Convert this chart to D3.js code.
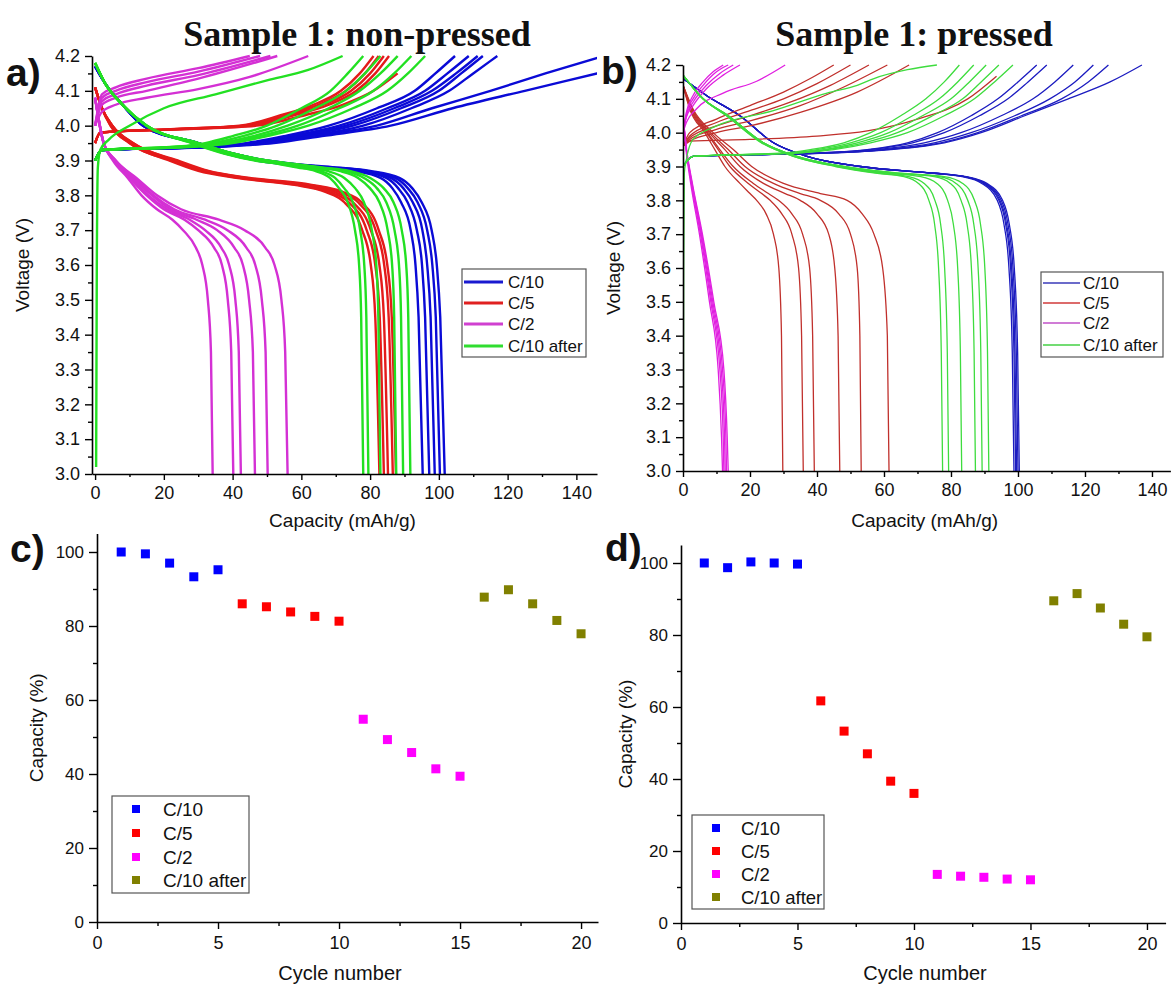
<!DOCTYPE html>
<html><head><meta charset="utf-8">
<script src="https://cdn.jsdelivr.net/npm/d3@7"></script>
<style>body{margin:0;background:#fff}svg text{font-family:"Liberation Sans",Arial,sans-serif;fill:#111}</style>
</head><body><svg id="c" width="1175" height="985"></svg>
<script>
// ---------------- DATA ----------------
const seriesNames = ["C/10","C/5","C/2","C/10 after"];
const voltTicks = [3.0,3.1,3.2,3.3,3.4,3.5,3.6,3.7,3.8,3.9,4.0,4.1,4.2];
const capTicks = [0,20,40,60,80,100,120,140];
const pctTicks = [0,20,40,60,80,100];
const cycTicks = [0,5,10,15,20];

// Panel a (non-pressed): discharge curves, capacities (mAh/g) at voltage grid
const aDisGridBlue = [4.17,4.12,4.06,4.0,3.95,3.92,3.9,3.89,3.88,3.87,3.85,3.82,3.78,3.7,3.6,3.45,3.0];
const aDisBlue = [
 [0,3,8,14,29,38,47,54.5,65,75,83,86.5,89,91.8,93.2,94.1,95.3],
 [0,3,8,14,29.5,39,48,55.5,66.5,76.5,84.7,88.2,90.9,93.6,95.1,96,97.2],
 [0,3,8,14,30,39.5,48.8,56.5,67.8,77.8,86,89.7,92.4,95.2,96.6,97.6,98.8],
 [0,3,8,14,30,40,49.5,57.3,69,79,87.3,91,93.8,96.6,98.1,99.1,100.3],
 [0,3,8,14,30,40,50,58,70,80,88.5,92.3,95,97.9,99.4,100.4,101.7]
];
const aDisGridGreen = [4.18,4.12,4.06,4.0,3.95,3.92,3.9,3.89,3.88,3.87,3.85,3.82,3.78,3.7,3.6,3.45,3.0];
const aDisGreen = [
 [0,3,8,15,28,37.5,46.5,53.5,59,64,68.3,71,73.5,75.6,76.8,77.4,78],
 [0,3,8,15,28.5,38,47,54,60,65.5,69.8,72.5,75,77.1,78.3,78.9,79.5],
 [0,3,8,15,29,39,48,55,61.5,67.5,72.5,75.7,78.2,80.5,81.8,82.4,83],
 [0,3,8,15,30,40,49.5,57,64,71,76.5,80,82.7,85.1,86.4,87,87.6],
 [0,3,8,15,30,40,50,57.5,65,72.5,78.2,82,84.7,87.1,88.4,89,89.6],
 [0,3,8,15,30,40,50,58,66,74,80,84,86.8,89.2,90.5,91.1,91.7]
];
const aDisGridRed = [4.11,4.05,4.0,3.95,3.9,3.87,3.85,3.83,3.81,3.78,3.7,3.6,3.45,3.0];
const aDisRed = [
 [0,2,4.5,10,21.5,30,41,58,67,72.5,77.7,80.2,81.5,82.7],
 [0,2,4.5,10,22,31,42,59,68,73.8,79,81.5,82.8,84],
 [0,2,5,10.5,23,32,43,60.5,69.5,75,80.2,82.7,84,85.2],
 [0,2,5,11,23.5,32.5,44,62,71,76.5,81.6,84.1,85.4,86.6],
 [0,2,5,11,24,33,45,63,72,77.5,82.5,85,86.3,87.5]
];
const aDisGridMag = [4.08,3.95,3.9,3.85,3.8,3.76,3.73,3.7,3.65,3.6,3.5,3.35,3.0];
const aDisMag = [
 [0,2.5,5.2,9.5,13.5,18,22.5,25.6,29.3,31.2,32.8,33.7,34.2],
 [0,2.5,5.5,10,15,20,26,30,34.6,36.9,38.6,39.6,40.2],
 [0,2.5,5.6,10.5,15.5,21,27.5,32,36.7,39,40.8,41.8,42.4],
 [0,2.5,5.8,11,16.5,22,29.5,35.5,40.5,43,44.8,45.9,46.5],
 [0,2.5,6,11.5,17,23,32,38.5,44,46.6,48.5,49.6,50.2],
 [0,2.5,6,12,18,25,36,43.5,49.5,52.2,54.2,55.3,56]
];
// Panel a charge curves
const aChgGrid = [3.9,3.93,3.94,3.95,3.97,4.0,4.05,4.1,4.15,4.2];
const aChgBlue = [
 [0,2,33,44,55,68,82,93,99,104.7],
 [0,2,34,45,57,71,85,96,102.5,108.7],
 [0,2,34,46,59,73,87,98,105,111.3],
 [0,2,35,47,60,75,89,100,106.5,112.8],
 [0,2,35,48,62,78,92,103,110,117],
 [0,2,36,50,63,82,98,115,131,148],
 [0,2,38,52,66,86,104,125,146,167]
];
const aChgGreen = [
 [0,2,24,32,40,50,60,68.5,73.5,78],
 [0,2,25,34,43,53,64,73,78.5,83],
 [0,2,27,36,46,56,68,77,83,88],
 [0,2,28,38,48,59,71,81,87,92],
 [0,2,30,40,50,62,75,85,91,96]
];
const aChgGreenFirst = [[0.3,3.02],[0.5,3.6],[0.8,3.88],[1.5,3.93],[4,3.96],[10,4.0],[20,4.05],[35,4.09],[50,4.13],[62,4.16],[72,4.2]];
const aChgGridRed = [3.95,3.98,3.99,4.0,4.03,4.06,4.1,4.15,4.2];
const aChgRed = [
 [0,1.5,22,42,54,63.5,71.5,77,81],
 [0,1.5,23,43,55,65,73,78.5,82.5],
 [0,1.5,24,44,56.5,66.5,74.5,80,84],
 [0,1.5,25,45,58,68,76,81.5,85.5]
];
const aChgRedLong = [[0,3.95],[1.5,3.98],[26,3.99],[47,4.0],[61,4.03],[72,4.06],[81,4.1],[88,4.15]];
const aChgMag = [
 [[0,4.0],[2,4.09],[6,4.11],[15,4.135],[30,4.165],[45,4.2]],
 [[0,4.0],[2,4.08],[6,4.1],[15,4.125],[30,4.155],[48,4.2]],
 [[0,4.0],[2,4.07],[6,4.09],[15,4.115],[30,4.145],[51,4.2]],
 [[0,4.0],[2,4.06],[6,4.08],[15,4.1],[30,4.135],[53,4.2]],
 [[0,4.0],[2,4.04],[6,4.06],[15,4.08],[30,4.105],[45,4.14],[62,4.2]]
];

// Panel b (pressed)
const bDisGridBlue = [4.16,4.11,4.05,3.97,3.93,3.9,3.88,3.87,3.85,3.8,3.73,3.6,3.35,3.0];
const bDisBlue = [
 [0,7,17,27,37,52.5,74.5,83.3,89.2,93.8,95.8,97.3,98.3,98.8],
 [0,7,17,27,37,53,75,84,89.7,94.3,96.3,97.8,98.8,99.3],
 [0,7,17,27,37,53,75,84,90,94.6,96.6,98.1,99.1,99.6],
 [0,7,17,27,37,53,75,84,90.3,95,97,98.5,99.5,100],
 [0,7,17,27,37,53,75.5,84.5,90.7,95.4,97.4,98.9,99.9,100.4]
];
const bDisGridGreen = [4.17,4.1,4.05,3.97,3.93,3.9,3.88,3.87,3.85,3.8,3.73,3.6,3.35,3.0];
const bDisGreen = [
 [0,6,13,23.5,33,45.5,58,66,70.3,73.4,75.1,76.3,77.1,77.5],
 [0,6,13,23.5,33,46,59,67.5,72,75.2,76.9,78.1,78.9,79.3],
 [0,6,13.5,24,33.5,47,61,71,75.8,79,80.7,82,82.8,83.2],
 [0,6,13.5,24,34,47.5,63,75,79.8,83,84.8,86.1,86.9,87.3],
 [0,6,13.5,24,34,48,64,76.5,81.5,85,86.8,88.1,88.9,89.3],
 [0,6,13.5,24,34,48,65,78,83.5,87,88.8,90.1,90.9,91.3]
];
const bDisGridRed = [4.14,4.07,4.0,3.95,3.9,3.85,3.82,3.8,3.76,3.7,3.6,3.4,3.0];
const bDisRed = [
 [0,2,6.5,9.5,12.5,17,20,22,24.8,27,28.6,29.4,29.8],
 [0,2.2,7,10.5,14,19.5,23.5,26,29.5,32.5,34.5,35.4,35.9],
 [0,2.4,7.3,11,15,21,25.5,28.5,32.5,35.7,37.8,38.7,39.2],
 [0,2.6,7.8,12.5,17,24,30.5,35,40,43.5,45.3,46.3,46.8],
 [0,2.8,8.3,13.5,18.5,27,35,41,46.5,50,52,52.8,53.2],
 [0,3,9,15,20.5,30,41,49,53.5,57,59.6,61,61.5]
];
const bDisGridMag = [4.05,3.95,3.85,3.7,3.5,3.3,3.1,3.0];
const bDisMag = [
 [0,0.9,2.3,4.9,7.9,10.5,11.5,11.8],
 [0,1,2.5,5.2,8.3,11,12,12.2],
 [0,1,2.6,5.4,8.6,11.4,12.4,12.6],
 [0,1,2.7,5.6,8.9,11.8,12.8,13.0],
 [0,1.1,2.8,5.8,9.2,12.2,13.2,13.5]
];
const bChgGrid = [3.9,3.93,3.94,3.95,3.97,4.0,4.05,4.1,4.15,4.2];
const bChgBlue = [
 [0,3,40,55,67,76,86,94,100,105.6],
 [0,3,41,56,68.5,78,88.5,97,103,108.6],
 [0,3,42,58,72,83,95,104.5,111,116.5],
 [0,3,43,60,75,86,99,109.5,117,122.5],
 [0,3,44,61,77,88,101,113,121,127],
 [0,3,45,62,78,89,102,115,127.5,137]
];
const bChgGreen = [
 [0,3,30,38,48,56,65,72.5,78,82.5],
 [0,3,32,40,50,59,68.5,76.5,82,86.8],
 [0,3,33,42,52,61.5,71.5,80,85.5,90.5],
 [0,3,34,43,54,64,74.5,83.5,89,94.3],
 [0,3,35,45,56,67,78,87,93,98.5]
];
const bChgGreenFirst = [[0.1,3.02],[0.2,3.6],[0.4,3.88],[1,3.92],[3,3.98],[10,4.02],[27,4.065],[43,4.117],[52,4.14],[57,4.16],[67,4.186],[75.8,4.2]];
const bChgRed = [
 [[0,3.96],[2,4.0],[10,4.04],[20,4.08],[30,4.12],[38,4.16],[45,4.2]],
 [[0,3.96],[2,3.99],[10,4.03],[20,4.065],[30,4.1],[40,4.145],[50,4.2]],
 [[0,3.96],[2,3.985],[10,4.02],[20,4.05],[32,4.09],[44,4.14],[55.5,4.2]],
 [[0,3.96],[2,3.98],[10,4.01],[20,4.035],[35,4.08],[48,4.135],[61,4.2]],
 [[0,3.96],[2,3.975],[10,4.0],[20,4.02],[35,4.06],[52,4.12],[67.5,4.2]],
 [[0,3.96],[2,3.975],[20,3.98],[40,3.99],[55,4.005],[70,4.04],[85,4.1],[93.6,4.167]]
];
const bChgMag = [
 [[0,4.0],[1,4.06],[3,4.11],[6,4.15],[9,4.18],[12,4.2]],
 [[0,4.0],[1,4.055],[3,4.1],[6,4.14],[10,4.18],[13.5,4.2]],
 [[0,4.0],[1,4.05],[3,4.09],[7,4.14],[11,4.175],[15,4.2]],
 [[0,4.0],[1,4.045],[3,4.08],[7,4.13],[12,4.17],[17,4.2]],
 [[0,4.0],[1,4.03],[4,4.07],[12,4.117],[22,4.152],[30.5,4.2]]
];

// Panels c, d: capacity retention (%) vs cycle number
const cycC10 = [1,2,3,4,5], cycC5 = [6,7,8,9,10], cycC2 = [11,12,13,14,15], cycC10a = [16,17,18,19,20];
const cC10 = [100,99.5,97,93.3,95.2];
const cC5 = [86,85.2,83.8,82.6,81.3];
const cC2 = [54.8,49.3,45.8,41.4,39.4];
const cC10a = [87.8,89.8,86,81.5,77.9];
const dC10 = [100,98.7,100.3,100,99.7];
const dC5 = [61.7,53.3,47,39.4,36];
const dC2 = [13.5,13,12.7,12.2,12];
const dC10a = [89.5,91.5,87.5,83,79.5];

// ---------------- DRAW ----------------
const svg = d3.select("#c");
const zip = (grid, caps) => caps.map((c,i)=>[c,grid[i]]);
const zipAll = (grid, list) => list.map(c => zip(grid,c));

function styleAxis(g, fs){
  g.select(".domain").attr("stroke","#000").attr("stroke-width",1.6);
  g.selectAll(".tick line").attr("stroke","#000").attr("stroke-width",1.4);
  g.selectAll(".tick text").attr("font-size",fs).attr("fill","#111")
   .attr("font-family","Liberation Sans, Arial, sans-serif");
}

function voltPanel(cfg){
  const x = d3.scaleLinear().domain(cfg.xd).range(cfg.xr);
  const y = d3.scaleLinear().domain([3,4.2]).range(cfg.yr);
  const id = "clip"+cfg.name;
  svg.append("clipPath").attr("id",id).append("rect")
     .attr("x",cfg.xr[0]).attr("y",cfg.yr[1]-3).attr("width",cfg.xr[1]-cfg.xr[0]).attr("height",cfg.yr[0]-cfg.yr[1]+3);
  const line = d3.line().x(d=>x(d[0])).y(d=>y(d[1])).curve(d3.curveMonotoneX);
  const gl = svg.append("g").attr("clip-path",`url(#${id})`);
  cfg.groups.forEach(gr => gr.curves.forEach(c => {
    gl.append("path").attr("d",line(c)).attr("fill","none")
      .attr("stroke",gr.color).attr("stroke-width",cfg.lw).attr("stroke-linejoin","round");
  }));
  // axes
  const gy = svg.append("g").attr("transform",`translate(${cfg.xr[0]},0)`)
    .call(d3.axisLeft(y).tickValues(voltTicks).tickFormat(d3.format(".1f")).tickSize(7).tickSizeOuter(0).tickPadding(5));
  styleAxis(gy,18);
  const gym = svg.append("g").attr("transform",`translate(${cfg.xr[0]},0)`)
    .call(d3.axisLeft(y).tickValues(d3.range(3.05,4.2,0.1)).tickFormat("").tickSize(4).tickSizeOuter(0));
  styleAxis(gym,18); gym.select(".domain").remove();
  const gx = svg.append("g").attr("transform",`translate(0,${cfg.yr[0]})`)
    .call(d3.axisBottom(x).tickValues(capTicks).tickSize(6).tickSizeOuter(0).tickPadding(6));
  styleAxis(gx,18);
  const gxm = svg.append("g").attr("transform",`translate(0,${cfg.yr[0]})`)
    .call(d3.axisBottom(x).tickValues(d3.range(10,cfg.xd[1],20)).tickFormat("").tickSize(3).tickSizeOuter(0));
  styleAxis(gxm,18); gxm.select(".domain").remove();
  // labels
  svg.append("text").attr("transform",`translate(${cfg.ylabX},${(cfg.yr[0]+cfg.yr[1])/2}) rotate(-90)`)
    .attr("text-anchor","middle").attr("font-size",19).text("Voltage (V)");
  svg.append("text").attr("x",(cfg.xr[0]+cfg.xr[1])/2 - 2).attr("y",cfg.xlabY)
    .attr("text-anchor","middle").attr("font-size",19).text("Capacity (mAh/g)");
  // legend
  const L = cfg.legend;
  svg.append("rect").attr("x",L.x).attr("y",L.y).attr("width",L.w).attr("height",L.h)
    .attr("fill","#fff").attr("stroke","#555").attr("stroke-width",1.2);
  seriesNames.forEach((s,i)=>{
    const yy = L.rows[i];
    svg.append("line").attr("x1",L.lx1).attr("x2",L.lx2).attr("y1",yy).attr("y2",yy)
      .attr("stroke",cfg.legendColors[i]).attr("stroke-width",cfg.legLw);
    svg.append("text").attr("x",L.tx).attr("y",yy).attr("dy","0.36em").attr("font-size",L.fs).text(s);
  });
}

voltPanel({
  name:"a", xd:[-0.9,146], xr:[92,597], yr:[474,56], lw:2.4, legLw:3, ylabX:29, xlabY:527,
  groups:[
    {color:"#0a0ad6", curves: zipAll(aChgGrid,aChgBlue).concat(zipAll(aDisGridBlue,aDisBlue))},
    {color:"#e41a1a", curves: zipAll(aChgGridRed,aChgRed).concat([aChgRedLong], zipAll(aDisGridRed,aDisRed))},
    {color:"#d430d4", curves: aChgMag.concat(zipAll(aDisGridMag,aDisMag))},
    {color:"#22e022", curves: zipAll(aChgGrid,aChgGreen).concat([aChgGreenFirst], zipAll(aDisGridGreen,aDisGreen))}
  ],
  legendColors:["#1a1ad0","#e02020","#d040d0","#30dd30"],
  legend:{x:462,y:269,w:124,h:88,lx1:464,lx2:503,tx:508,fs:17,rows:[282,303,324,346]}
});

voltPanel({
  name:"b", xd:[0,145.5], xr:[683,1170.4], yr:[471,65], lw:1.3, legLw:1.5, ylabX:620, xlabY:527,
  groups:[
    {color:"#1c1cc0", curves: zipAll(bChgGrid,bChgBlue).concat(zipAll(bDisGridBlue,bDisBlue))},
    {color:"#c0302c", curves: bChgRed.concat(zipAll(bDisGridRed,bDisRed))},
    {color:"#e020e0", curves: bChgMag.concat(zipAll(bDisGridMag,bDisMag))},
    {color:"#3edc3e", curves: zipAll(bChgGrid,bChgGreen).concat([bChgGreenFirst], zipAll(bDisGridGreen,bDisGreen))}
  ],
  legendColors:["#3a3ab8","#d03a3a","#c050c8","#44d044"],
  legend:{x:1041,y:272,w:122,h:85,lx1:1043,lx2:1080,tx:1083,fs:17,rows:[283,303,323,345]}
});

const scatterColors = ["#0000ff","#ff0000","#ff00ff","#808000"];
function pctPanel(cfg){
  const x = d3.scaleLinear().domain(cfg.xd).range(cfg.xr);
  const y = d3.scaleLinear().domain([0,105]).range(cfg.yr);
  cfg.sets.forEach((s,i)=>{
    svg.append("g").selectAll("rect").data(s.cyc.map((c,j)=>[c,s.v[j]])).join("rect")
      .attr("x",d=>x(d[0])-4.5).attr("y",d=>y(d[1])-4.5).attr("width",9).attr("height",9)
      .attr("fill",scatterColors[i]);
  });
  const gy = svg.append("g").attr("transform",`translate(${cfg.xr[0]},0)`)
    .call(d3.axisLeft(y).tickValues(pctTicks).tickSize(8).tickSizeOuter(0).tickPadding(5));
  styleAxis(gy,17);
  const gym = svg.append("g").attr("transform",`translate(${cfg.xr[0]},0)`)
    .call(d3.axisLeft(y).tickValues(d3.range(10,105,20)).tickFormat("").tickSize(4).tickSizeOuter(0));
  styleAxis(gym,17); gym.select(".domain").remove();
  const gx = svg.append("g").attr("transform",`translate(0,${cfg.yr[0]})`)
    .call(d3.axisBottom(x).tickValues(cycTicks).tickSize(7).tickSizeOuter(0).tickPadding(7));
  styleAxis(gx,18);
  const gxm = svg.append("g").attr("transform",`translate(0,${cfg.yr[0]})`)
    .call(d3.axisBottom(x).tickValues(d3.range(2.5,20.6,5)).tickFormat("").tickSize(4).tickSizeOuter(0));
  styleAxis(gxm,18); gxm.select(".domain").remove();
  svg.append("text").attr("transform",`translate(${cfg.ylabX},${(cfg.yr[0]+cfg.yr[1])/2}) rotate(-90)`)
    .attr("text-anchor","middle").attr("font-size",19).text("Capacity (%)");
  svg.append("text").attr("x",cfg.xlabX).attr("y",980).attr("text-anchor","middle").attr("font-size",20).text("Cycle number");
  const L = cfg.legend;
  svg.append("rect").attr("x",L.x).attr("y",L.y).attr("width",L.w).attr("height",L.h)
    .attr("fill","#fff").attr("stroke","#555").attr("stroke-width",1.2);
  seriesNames.forEach((s,i)=>{
    const yy = L.rows[i];
    svg.append("rect").attr("x",L.mx-4).attr("y",yy-4).attr("width",8).attr("height",8).attr("fill",scatterColors[i]);
    svg.append("text").attr("x",L.tx).attr("y",yy).attr("dy","0.36em").attr("font-size",L.fs).text(s);
  });
}

pctPanel({
  xd:[0,20.7], xr:[97,598], yr:[922,533.5], ylabX:43, xlabX:340,
  sets:[{cyc:cycC10,v:cC10},{cyc:cycC5,v:cC5},{cyc:cycC2,v:cC2},{cyc:cycC10a,v:cC10a}],
  legend:{x:112,y:796,w:137,h:97,mx:136,tx:163,fs:19,rows:[809,833,857,880]}
});
pctPanel({
  xd:[0,20.8], xr:[681,1165.6], yr:[923,545], ylabX:632, xlabX:925,
  sets:[{cyc:cycC10,v:dC10},{cyc:cycC5,v:dC5},{cyc:cycC2,v:dC2},{cyc:cycC10a,v:dC10a}],
  legend:{x:692,y:815,w:132,h:94,mx:716,tx:741,fs:18.5,rows:[828,851,874,897]}
});

// titles and panel letters
svg.append("text").attr("x",357).attr("y",46).attr("text-anchor","middle")
  .attr("font-weight","bold").attr("font-size",36)
  .style("font-family","Liberation Serif, serif").text("Sample 1: non-pressed");
svg.append("text").attr("x",914).attr("y",46).attr("text-anchor","middle")
  .attr("font-weight","bold").attr("font-size",36)
  .style("font-family","Liberation Serif, serif").text("Sample 1: pressed");
[["a)",6,86],["b)",601,84],["c)",10,562],["d)",605,561]].forEach(p=>{
  svg.append("text").attr("x",p[1]).attr("y",p[2]).attr("font-size",39).attr("font-weight","bold").text(p[0]);
});
</script></body></html>
